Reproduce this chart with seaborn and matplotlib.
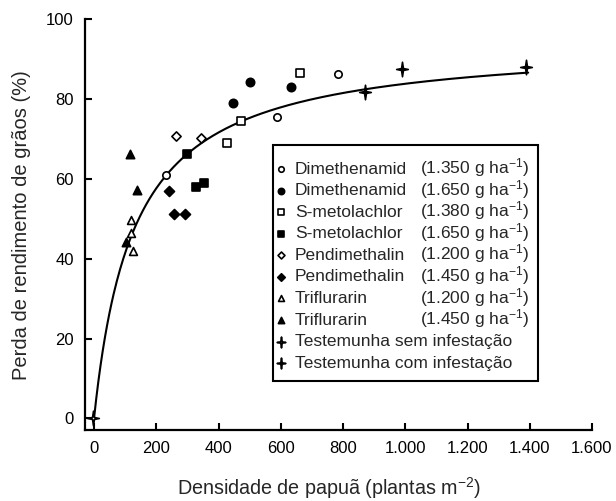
import numpy as np
import pandas as pd
import seaborn as sns
import matplotlib.pyplot as plt
from matplotlib.path import Path
from matplotlib.patches import Rectangle

# ---- data ----
dim_1350_x = [230, 589, 784]
dim_1350_y = [60.9, 75.5, 86.3]
dim_1650_x = [446, 500, 633]
dim_1650_y = [79.1, 84.3, 83.1]
smet_1380_x = [426, 471, 662]
smet_1380_y = [69.1, 74.6, 86.6]
smet_1650_x = [299, 328, 354]
smet_1650_y = [66.2, 58.1, 59.0]
pend_1200_x = [262, 344]
pend_1200_y = [70.8, 70.2]
pend_1450_x = [241, 258, 292]
pend_1450_y = [57.0, 51.3, 51.3]
trif_1200_x = [119, 119, 124]
trif_1200_y = [49.7, 46.4, 42.0]
trif_1450_x = [117, 139, 103]
trif_1450_y = [66.2, 57.3, 44.3]
test_sem_x = [-4]
test_sem_y = [0]
test_com_x = [872, 991, 1388]
test_com_y = [81.7, 87.6, 88.1]

names = ["Dimethenamid", "Dimethenamid", "S-metolachlor", "S-metolachlor",
         "Pendimethalin", "Pendimethalin", "Triflurarin", "Triflurarin",
         "Testemunha sem infestação", "Testemunha com infestação"]
doses = ["1.350", "1.650", "1.380", "1.650", "1.200", "1.450", "1.200", "1.450", None, None]

# rectangular hyperbola fit (Cousens): Y = i*X / (1 + i*X/a)
fit_i = 0.738
fit_a = 94.6
fit_xmax = 1395

xticks = [0, 200, 400, 600, 800, 1000, 1200, 1400, 1600]
xticklabels = ["0", "200", "400", "600", "800", "1.000", "1.200", "1.400", "1.600"]
yticks = [0, 20, 40, 60, 80, 100]

# ---- style ----
sns.set_style("ticks")
plt.rcParams["font.family"] = ["Liberation Sans", "DejaVu Sans"]
plt.rcParams["mathtext.fontset"] = "custom"
plt.rcParams["mathtext.rm"] = "Liberation Sans"
plt.rcParams["mathtext.it"] = "Liberation Sans:italic"

# 4-pointed star marker for the controls
star = Path([(0, 1), (0.13, 0.13), (0.8, 0), (0.13, -0.13), (0, -1),
             (-0.13, -0.13), (-0.8, 0), (-0.13, 0.13), (0, 1)],
            [Path.MOVETO] + [Path.LINETO] * 7 + [Path.CLOSEPOLY])

series = [
    (dim_1350_x, dim_1350_y, "o", "white", 28),
    (dim_1650_x, dim_1650_y, "o", "black", 36),
    (smet_1380_x, smet_1380_y, "s", "white", 26),
    (smet_1650_x, smet_1650_y, "s", "black", 30),
    (pend_1200_x, pend_1200_y, "D", "white", 22),
    (pend_1450_x, pend_1450_y, "D", "black", 26),
    (trif_1200_x, trif_1200_y, "^", "white", 32),
    (trif_1450_x, trif_1450_y, "^", "black", 36),
    (test_sem_x, test_sem_y, star, "white", 110),
    (test_com_x, test_com_y, star, "black", 110),
]

W, H = 616, 501
fig = plt.figure(figsize=(W / 100, H / 100), dpi=100)
ax = fig.add_axes([85 / W, 1 - 430 / H, 507 / W, 410.7 / H])

# fitted curve
xc = np.linspace(0, fit_xmax, 400)
yc = fit_i * xc / (1 + fit_i * xc / fit_a)
sns.lineplot(x=xc, y=yc, color="black", linewidth=1.5, ax=ax, zorder=2)

for (xs, ys, mk, fc, sz), nm in zip(series, names):
    df = pd.DataFrame({"x": xs, "y": ys})
    sns.scatterplot(data=df, x="x", y="y", marker=mk, color=fc, edgecolor="black",
                    linewidth=1.2, s=sz, ax=ax, label=nm, zorder=3)

ax.set_xlim(-29, 1600)
ax.set_ylim(-2.9, 100)
ax.set_xticks(xticks)
ax.set_xticklabels(xticklabels)
ax.set_yticks(yticks)
ax.tick_params(direction="in", length=5, width=1.5, labelsize=12, pad=8, colors="black")
for side in ["top", "right"]:
    ax.spines[side].set_visible(False)
for side in ["left", "bottom"]:
    ax.spines[side].set_linewidth(1.6)
    ax.spines[side].set_color("black")

ax.set_xlabel("Densidade de papuã (plantas m$^{-2}$)", fontsize=14.2)
ax.set_ylabel("Perda de rendimento de grãos (%)", fontsize=14.5)
ax.xaxis.set_label_coords(0.481, -0.111)
ax.yaxis.set_label_coords(-0.106, 0.5)

# legend box drawn separately so it can hold the dose column
box = Rectangle((273 / W, 1 - 381 / H), (538 - 273) / W, (381 - 145) / H,
                transform=fig.transFigure, facecolor="white", edgecolor="black",
                linewidth=1.5, zorder=4, clip_on=False)
ax.add_artist(box)

leg = ax.legend(loc="upper left", bbox_to_anchor=(0.375, 0.654), borderaxespad=0,
                frameon=False, fontsize=12.5, handlelength=0.7, handletextpad=0.45,
                labelspacing=0.37, borderpad=0, markerscale=0.75, scatterpoints=1)
leg.set_zorder(5)

# dose column, aligned to each legend row
fig.canvas.draw()
for t, d in zip(leg.get_texts(), doses):
    if d is None:
        continue
    x0, y0 = t.get_transform().transform(t.get_position())
    ax.text(420 / W, y0 / H, f"({d} g ha$^{{-1}}$)", fontsize=12.5,
            va="baseline", ha="left", zorder=6, transform=fig.transFigure)

fig.savefig("out.png", dpi=100)
